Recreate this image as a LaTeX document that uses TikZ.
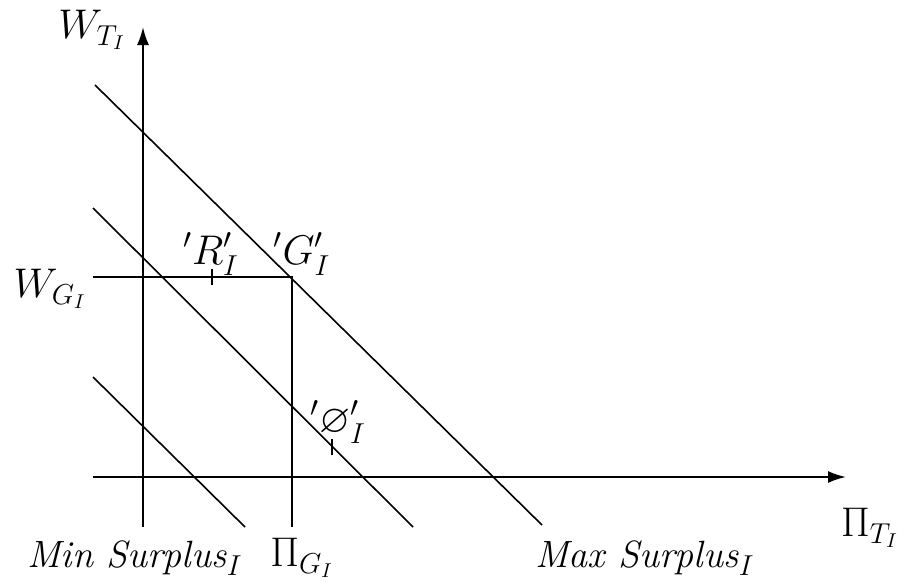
\documentclass[tikz,border=0pt]{standalone}
\usepackage{amssymb}
\usetikzlibrary{arrows.meta}
\tikzset{
  axis/.style={line width=1pt,-{Latex[length=9pt,width=6pt]}},
  guide/.style={line width=1pt},
  budget/.style={line width=0.8pt},
  tickmark/.style={line width=0.8pt},
  lbl/.style={inner sep=0pt,font=\fontsize{20}{24}\selectfont},
  slbl/.style={inner sep=0pt,font=\fontsize{19}{23}\selectfont}
}
\begin{document}
\begin{tikzpicture}[x=0.5pt,y=-0.5pt]
\useasboundingbox (0,0) rectangle (904,584);
% axis end points
\coordinate (xs) at (93,477);
\coordinate (xe) at (846,477);
\coordinate (ys) at (143,527);
\coordinate (ye) at (143,27);
\draw[axis] (xs) -- (xe);
\draw[axis] (ys) -- (ye);
% guides
\coordinate (wg) at (93,277);
\coordinate (g) at (292,277);
\coordinate (pg) at (292,527);
\draw[guide] (wg) -- (g) -- (pg);
% budget lines
\coordinate (a1) at (95,85);
\coordinate (b1) at (542,525);
\coordinate (a2) at (93,208);
\coordinate (b2) at (413,527);
\coordinate (a3) at (93,377);
\coordinate (b3) at (245,527);
\draw[budget] (a1) -- (b1);
\draw[budget] (a2) -- (b2);
\draw[budget] (a3) -- (b3);
% ticks
\coordinate (r) at (212,277);
\coordinate (o) at (332,447);
\draw[tickmark] ([yshift=4pt]r) -- ([yshift=-4pt]r);
\draw[tickmark] ([yshift=4pt]o) -- ([yshift=-4pt]o);
% labels
\node[lbl] (lwt) at (92,30) {$W_{T_I}$};
\node[lbl] (lwg) at (50,289) {$W_{G_I}$};
\node[lbl] (lr) at (211,254) {${}'R'_I$};
\node[lbl] (lg) at (302,254) {${}'G'_I$};
\node[lbl] (lo) at (338,422) {${}'\varnothing'_I$};
\node[lbl] (lpt) at (870,528) {$\Pi_{T_I}$};
\node[slbl] (lmin) at (135,558) {\textit{Min Surplus}$_I$};
\node[lbl] (lpg) at (302,558) {$\Pi_{G_I}$};
\node[slbl] (lmax) at (645,558) {\textit{Max Surplus}$_I$};
\end{tikzpicture}
\end{document}
